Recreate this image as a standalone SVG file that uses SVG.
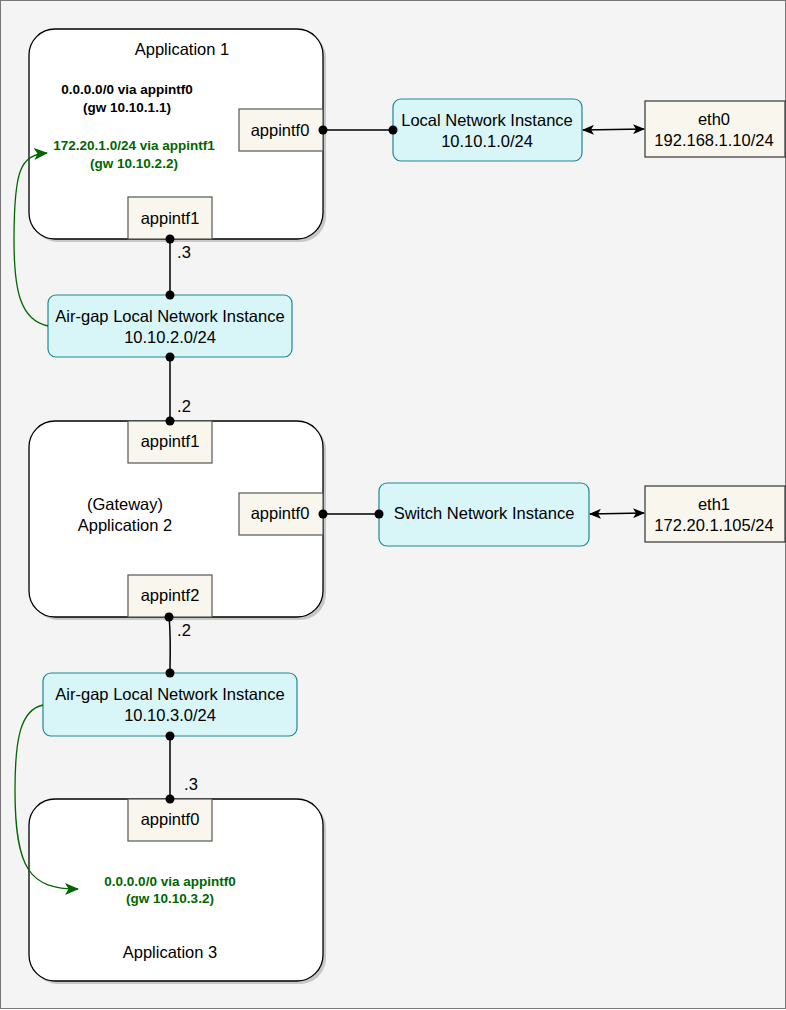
<svg xmlns="http://www.w3.org/2000/svg" width="786" height="1010" viewBox="0 0 786 1010">
<style>
text{font-family:"Liberation Sans",Arial,sans-serif;font-size:16.5px;fill:#000;text-anchor:middle}
.app{fill:#fff;stroke:#000;stroke-width:1.3}
.sh{fill:#999;opacity:.5}
.intf{fill:#f9f7ed;stroke:#555;stroke-width:1.2}
.ni{fill:#d8f5f7;stroke:#1a8a92;stroke-width:1.2}
.eth{fill:#f9f7ed;stroke:#333;stroke-width:1.2}
.b{font-size:13.5px;font-weight:bold}
.g{fill:#006600}
.c{stroke:#000;stroke-width:1.5;fill:none}
.gc{stroke:#006600;stroke-width:1.3;fill:none}
</style>
<defs>
<marker id="dot" markerWidth="10" markerHeight="10" refX="5" refY="5" markerUnits="userSpaceOnUse"><circle cx="5" cy="5" r="4.5" fill="#000"/></marker>
<marker id="arr" markerWidth="12" markerHeight="10" refX="11" refY="5" orient="auto-start-reverse" markerUnits="userSpaceOnUse"><path d="M0,0 L12,5 L0,10 L3,5Z" fill="#000"/></marker>
<marker id="garr" markerWidth="14" markerHeight="12" refX="13" refY="6" orient="auto" markerUnits="userSpaceOnUse"><path d="M0,0 L14,6 L0,12 L3.5,6Z" fill="#006600"/></marker>
</defs>
<rect x="0.5" y="0.5" width="785" height="1008" fill="#f4f4f4" stroke="#777"/>
<g id="app1"><rect class="sh" x="32" y="32" width="294" height="210" rx="26"/><rect class="app" x="29" y="29" width="294" height="210" rx="26"/>
<text x="182" y="55">Application 1</text>
<text class="b" x="127" y="94">0.0.0.0/0 via appintf0</text><text class="b" x="127" y="112">(gw 10.10.1.1)</text>
<text class="b g" x="134" y="150">172.20.1.0/24 via appintf1</text><text class="b g" x="134" y="168">(gw 10.10.2.2)</text></g>
<g id="app1_intf0"><rect class="intf" x="239" y="109" width="84" height="42"/><text x="280" y="136">appintf0</text></g>
<g id="app1_intf1"><rect class="intf" x="128" y="197" width="84" height="42"/><text x="170" y="224">appintf1</text></g>
<g id="lni"><rect class="ni" x="393" y="99" width="189" height="62" rx="8"/><text x="487" y="126">Local Network Instance</text><text x="487" y="147">10.10.1.0/24</text></g>
<g id="eth0"><rect class="eth" x="645" y="101" width="140" height="56"/><text x="714" y="125">eth0</text><text x="714" y="146">192.168.1.10/24</text></g>
<g id="ag1"><rect class="ni" x="48" y="295" width="244" height="62" rx="8"/><text x="170" y="322">Air-gap Local Network Instance</text><text x="170" y="343">10.10.2.0/24</text></g>
<g id="app2"><rect class="sh" x="32" y="424" width="294" height="196" rx="26"/><rect class="app" x="29" y="421" width="294" height="196" rx="26"/>
<text x="125" y="510">(Gateway)</text><text x="125" y="531">Application 2</text></g>
<g id="app2_intf1"><rect class="intf" x="128" y="421" width="84" height="42"/><text x="170" y="447">appintf1</text></g>
<g id="app2_intf0"><rect class="intf" x="239" y="493" width="84" height="42"/><text x="280" y="519">appintf0</text></g>
<g id="app2_intf2"><rect class="intf" x="128" y="575" width="84" height="42"/><text x="170" y="601">appintf2</text></g>
<g id="sni"><rect class="ni" x="379" y="483" width="210" height="63" rx="8"/><text x="484" y="519">Switch Network Instance</text></g>
<g id="eth1"><rect class="eth" x="645" y="486" width="140" height="56"/><text x="714" y="510">eth1</text><text x="714" y="531">172.20.1.105/24</text></g>
<g id="ag2"><rect class="ni" x="43" y="673" width="254" height="63" rx="8"/><text x="170" y="700">Air-gap Local Network Instance</text><text x="170" y="721">10.10.3.0/24</text></g>
<g id="app3"><rect class="sh" x="32" y="802" width="294" height="182" rx="26"/><rect class="app" x="29" y="799" width="294" height="182" rx="26"/>
<text class="b g" x="170" y="886">0.0.0.0/0 via appintf0</text><text class="b g" x="170" y="903">(gw 10.10.3.2)</text>
<text x="170" y="958">Application 3</text></g>
<g id="app3_intf0"><rect class="intf" x="128" y="799" width="84" height="42"/><text x="170" y="825">appintf0</text></g>
<g id="connectors">
<path class="c" d="M323,130 L393,130" marker-start="url(#dot)" marker-end="url(#dot)"/>
<path class="c" d="M583,130 L644,129" marker-start="url(#arr)" marker-end="url(#arr)"/>
<path class="c" d="M170,239 L170,295" marker-start="url(#dot)" marker-end="url(#dot)"/>
<path class="c" d="M170,357 L170,421" marker-start="url(#dot)" marker-end="url(#dot)"/>
<path class="c" d="M323,514 L379,514" marker-start="url(#dot)" marker-end="url(#dot)"/>
<path class="c" d="M590,514 L644,513" marker-start="url(#arr)" marker-end="url(#arr)"/>
<path class="c" d="M169,617 C171,635 170,655 170,673" marker-start="url(#dot)" marker-end="url(#dot)"/>
<path class="c" d="M170,736 L170,799" marker-start="url(#dot)" marker-end="url(#dot)"/>
<path class="gc" d="M48,326 C20,320 14,290 14,240 C14,170 20,155 47,153" marker-end="url(#garr)"/>
<path class="gc" d="M43,705 C20,710 15,740 15,790 C15,870 30,889 78,889" marker-end="url(#garr)"/>
<text x="184" y="258">.3</text><text x="184" y="412">.2</text><text x="184" y="636">.2</text><text x="191" y="790">.3</text>
</g>
</svg>
